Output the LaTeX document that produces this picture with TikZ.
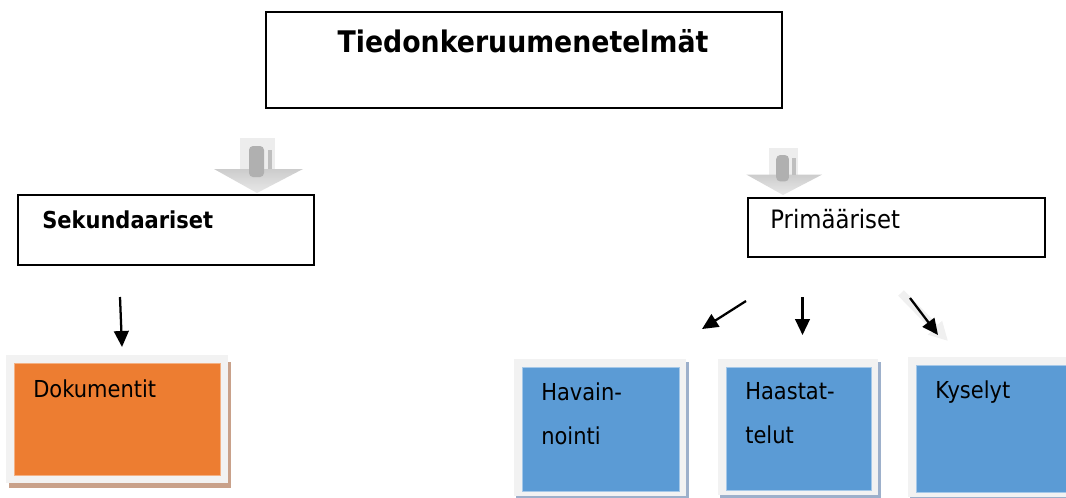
\documentclass[tikz,border=0pt]{standalone}
\usepackage{fontspec}
\setmainfont{DejaVu Sans}[FakeStretch=0.9]
\usepackage{xcolor}
\usepackage{tikz}
\usetikzlibrary{arrows.meta,fit}

\definecolor{orangefill}{HTML}{ED7D31}
\definecolor{bluefill}{HTML}{5B9BD5}
\definecolor{framegray}{HTML}{F2F2F2}
\definecolor{tanshadow}{HTML}{C9A18A}
\definecolor{blueshadow}{HTML}{9DB0CB}

\begin{document}
\begin{tikzpicture}[x=0.75pt,y=-0.75pt,
  box/.style={draw=black, line width=1.2pt, inner sep=0pt},
  frame/.style={fill=framegray, inner sep=0pt},
  orangebox/.style={fill=orangefill, draw=orangefill!60!white, line width=0.4pt, inner sep=0pt},
  bluebox/.style={fill=bluefill, draw=bluefill!55!white, line width=0.4pt, inner sep=0pt},
  txt/.style={inner sep=0pt, anchor=base west, font=\fontsize{17.5}{33}\selectfont},
  arr/.style={-{Triangle[length=12pt,width=11pt]}, line width=1.7pt},
  downarrow/.pic={
    \fill[gray!14] (-17,-55) rectangle (18,-23);
    \shade[top color=gray!40, bottom color=gray!18] (-43,-24) -- (46,-24) -- (0,0) -- cycle;
    \fill[gray!62, rounded corners=3pt] (-8,-47) rectangle (7,-16);
    \fill[gray!50] (11,-43) rectangle (15,-24);
  }
]
\useasboundingbox (0,0) rectangle (1066,497);

% top level
\node[box, fit={(266,12) (782,108)}] (title) {};
\node[inner sep=0pt, anchor=base, font=\fontsize{22.3}{26}\selectfont\bfseries] (titletxt) at (523,52) {Tiedonkeruumenetelmät};

\pic at (257,193) {downarrow};
\pic[scale=0.85] at (783,195) {downarrow};

\node[box, fit={(18,195) (314,265)}] (sek) {};
\node[txt, font=\fontsize{17.5}{21}\selectfont\bfseries] (sektxt) at (42,228) {Sekundaariset};
\node[box, fit={(748,198) (1045,257)}] (prim) {};
\node[txt, font=\fontsize{19}{23}\selectfont] (primtxt) at (770,228) {Primääriset};

% secondary
\fill[tanshadow] (9,362) rectangle (231,488);
\node[frame, fit={(6,355) (228,483)}] (dokf) {};
\node[orangebox, fit={(14,363) (220,475)}] (dok) {};
\node[txt] (doktxt) at (33,397) {Dokumentit};

% primary
\foreach \nm/\xl/\xr/\yt/\yb/\txt in {hav/514/686/359/496/{Havain-\\nointi},haa/718/878/359/495/{Haastat-\\telut},kys/908/1075/357/497/{Kyselyt}}{
  \fill[blueshadow] (\xl+2,\yt+3) rectangle (\xr+2.5,\yb+3);
  \node[frame, fit={(\xl,\yt) (\xr,\yb)}] (\nm-f) {};
  \node[bluebox, fit={(\xl+8,\yt+8) (\xr-7,\yb-5)}] (\nm) {};
  \node[txt, anchor=north west, align=left] (\nm-txt) at (\xl+27,\yt+23) {\txt};
}

% connectors
\coordinate (a1) at (120,297);
\coordinate (b1) at (122,347);
\coordinate (a2) at (746,301);
\coordinate (b2) at (702,329);
\coordinate (a3) at (802.5,297);
\coordinate (b3) at (802.5,335);
\coordinate (a4) at (910,298);
\coordinate (b4) at (938,335);
\coordinate (s4a) at (901,293);
\coordinate (s4b) at (948,341);
\draw[arr] (a1) -- (b1);
\draw[arr] (a2) -- (b2);
\draw[arr] (a3) -- (b3);
\draw[-{Triangle[length=14pt,width=14pt]}, line width=6pt, gray!12] (s4a) -- (s4b);
\draw[arr] (a4) -- (b4);
\end{tikzpicture}
\end{document}
